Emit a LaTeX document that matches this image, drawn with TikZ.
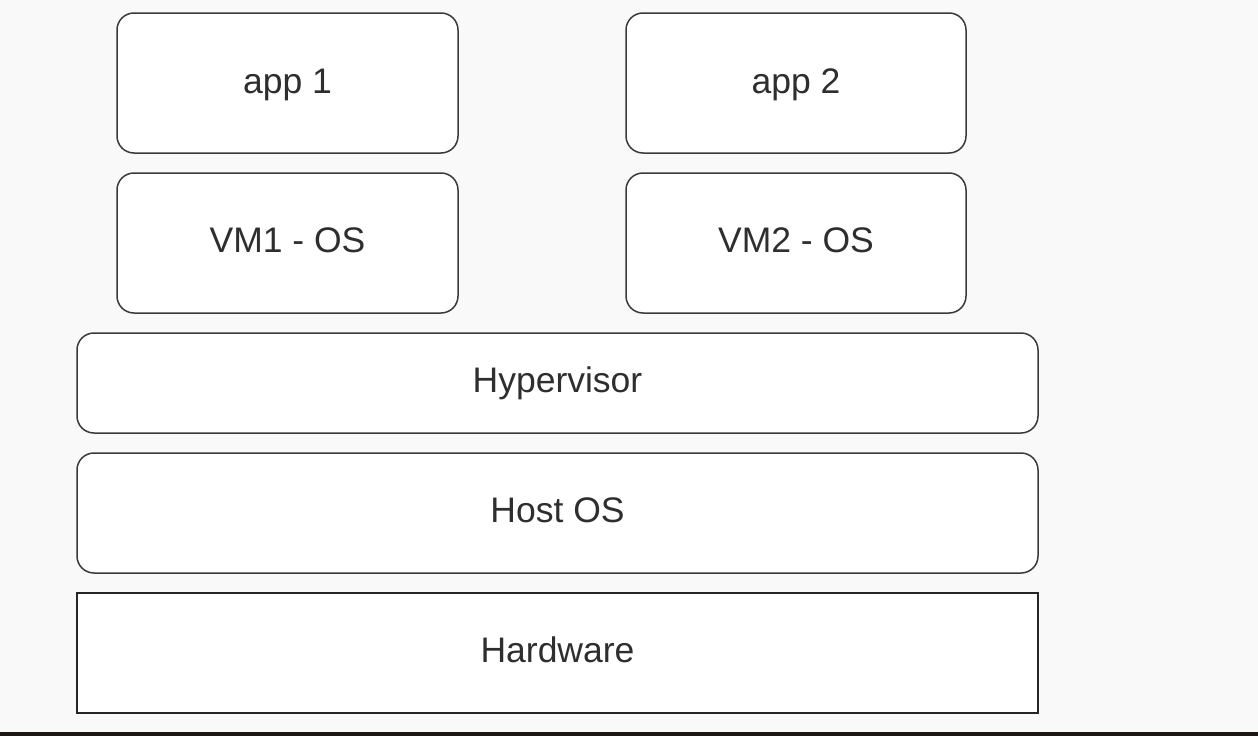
\documentclass[tikz,border=0pt]{standalone}
\usepackage{fontspec}
\setmainfont{Liberation Sans}
\begin{document}
\begin{tikzpicture}[x=1pt,y=-1pt,
  roundbox/.style={draw=boxline, line width=1.5pt, fill=white, rounded corners=17pt},
  squarebox/.style={draw=black!85, line width=1.6pt, fill=white},
  lbl/.style={text=txt, anchor=base, inner sep=0pt, font=\fontsize{35.5}{42}\selectfont}]
\definecolor{bg}{HTML}{F9F9F9}
\definecolor{boxline}{HTML}{3A3A3A}
\definecolor{txt}{HTML}{2E2E2E}
\definecolor{band}{HTML}{1E1614}
\fill[bg] (0,0) rectangle (1258,736);
\useasboundingbox (0,0) rectangle (1258,736);
\fill[band] (0,732) rectangle (1258,736);
% boxes
\draw[roundbox] (117,13) rectangle (458,153);
\draw[roundbox] (626,13) rectangle (966,153);
\draw[roundbox] (117,173) rectangle (458,313);
\draw[roundbox] (626,173) rectangle (966,313);
\draw[roundbox] (77,333) rectangle (1038,433);
\draw[roundbox] (77,453) rectangle (1038,573);
\draw[squarebox] (77,593) rectangle (1038,713);
% labels
\node[lbl] (app1) at (287.5,93) {app 1};
\node[lbl] (app2) at (796,93) {app 2};
\node[lbl] (vm1) at (287.5,252) {VM1 - OS};
\node[lbl] (vm2) at (796,252) {VM2 - OS};
\node[lbl] (hyp) at (557.5,392) {Hypervisor};
\node[lbl] (host) at (557.5,522) {Host OS};
\node[lbl] (hw) at (557.5,662) {Hardware};
\end{tikzpicture}
\end{document}
